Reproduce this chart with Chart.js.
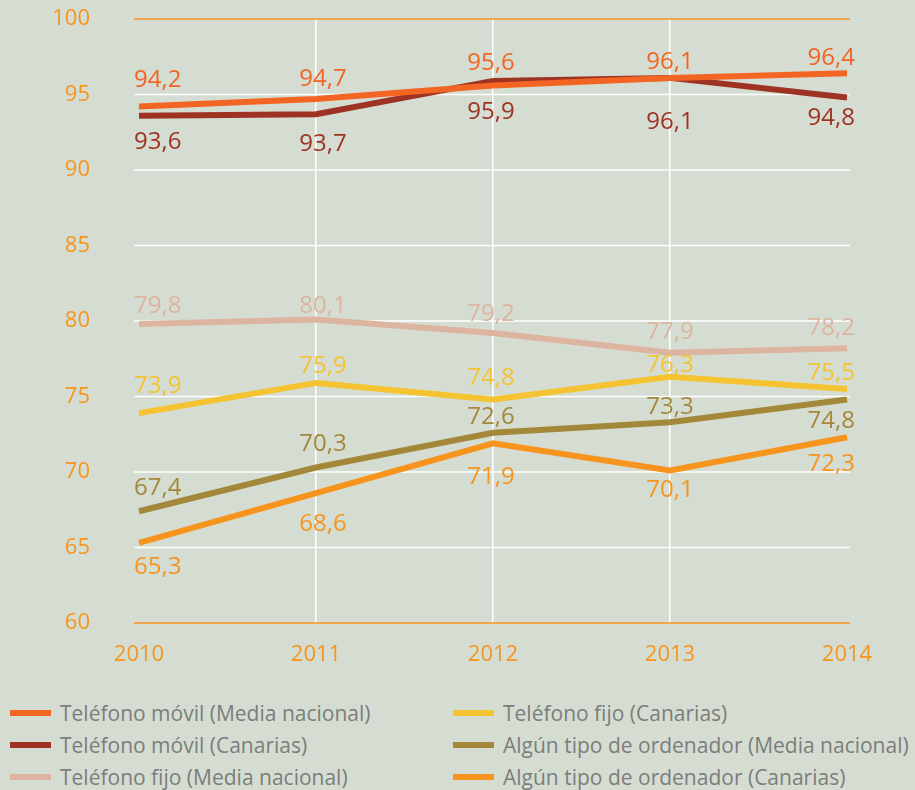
<!DOCTYPE html>
<html>
<head>
<meta charset="utf-8">
<script src="https://cdn.jsdelivr.net/npm/chart.js@4"></script>
<style>
  html, body { margin:0; padding:0; background:#d5ddd2; width:915px; height:790px; overflow:hidden; font-family:"Open Sans", sans-serif; }
  #wrap { position:absolute; left:0; top:0; width:915px; height:690px; }
  .leg { position:absolute; display:flex; align-items:center; font-size:21px; color:#7b7d7c; white-space:nowrap; height:30px; }
  .leg span.m { display:inline-block; width:41px; height:6px; margin-right:9px; }
</style>
</head>
<body>
<div id="wrap"><canvas id="c" width="915" height="690"></canvas></div>
<div id="legend"></div>
<script>
const years = ['2010', '2011', '2012', '2013', '2014'];
const seriesNames = [
  'Teléfono móvil (Media nacional)',
  'Teléfono móvil (Canarias)',
  'Teléfono fijo (Media nacional)',
  'Teléfono fijo (Canarias)',
  'Algún tipo de ordenador (Media nacional)',
  'Algún tipo de ordenador (Canarias)'
];
const movilNacional     = [94.2, 94.7, 95.6, 96.1, 96.4];
const movilCanarias     = [93.6, 93.7, 95.9, 96.1, 94.8];
const fijoNacional      = [79.8, 80.1, 79.2, 77.9, 78.2];
const fijoCanarias      = [73.9, 75.9, 74.8, 76.3, 75.5];
const ordenadorNacional = [67.4, 70.3, 72.6, 73.3, 74.8];
const ordenadorCanarias = [65.3, 68.6, 71.9, 70.1, 72.3];
const yTicks = [60, 65, 70, 75, 80, 85, 90, 95, 100];

// styling (not data)
const colors = ['#f26522', '#9e3324', '#ddb4a0', '#f5c332', '#a3883a', '#f7941d'];
const labelOffsets = [
  [-28, -22, -24, -17, -17],
  [ 25,  28,  30,  43,  19],
  [-20, -15, -21, -22, -22],
  [-29, -18, -23, -13, -18],
  [-25, -25, -17, -17,  20],
  [ 22,  29,  32,  18,  25]
];
const labelDx = [-5, 7, -2, 0, 8];
const AXIS_COLOR = '#f7941d';

const seriesValues = [movilNacional, movilCanarias, fijoNacional, fijoCanarias, ordenadorNacional, ordenadorCanarias];

const datasets = seriesValues.map((vals, i) => ({
  label: seriesNames[i],
  data: vals,
  borderColor: colors[i],
  backgroundColor: colors[i],
  borderWidth: 6,
  pointRadius: 0,
  pointHoverRadius: 0,
  tension: 0,
  fill: false,
  borderCapStyle: 'butt',
  borderJoinStyle: 'miter'
}));

const gridPlugin = {
  id: 'hgrid',
  beforeDatasetsDraw(chart) {
    const { ctx, chartArea, scales } = chart;
    ctx.save();
    yTicks.forEach(v => {
      const y = scales.y.getPixelForValue(v);
      ctx.beginPath();
      ctx.strokeStyle = (v === 100 || v === 60) ? AXIS_COLOR : '#ffffff';
      ctx.lineWidth = 1.5;
      ctx.moveTo(chartArea.left - 5, y);
      ctx.lineTo(chartArea.right + 3, y);
      ctx.stroke();
    });
    ctx.restore();
  }
};

const labelPlugin = {
  id: 'vlabels',
  afterDatasetsDraw(chart) {
    const { ctx } = chart;
    ctx.save();
    const fs = 24;
    ctx.font = fs + 'px "Open Sans", sans-serif';
    ctx.textBaseline = 'alphabetic';
    chart.data.datasets.forEach((ds, di) => {
      const meta = chart.getDatasetMeta(di);
      meta.data.forEach((pt, i) => {
        const txt = ds.data[i].toFixed(1).replace('.', ',');
        let align = 'center';
        if (i === 0) align = 'left';
        if (i === ds.data.length - 1) align = 'right';
        ctx.textAlign = align;
        ctx.fillStyle = colors[di];
        const cy = pt.y + labelOffsets[di][i];
        ctx.fillText(txt, pt.x + labelDx[i], cy + fs * 0.357);
      });
    });
    ctx.restore();
  }
};

new Chart(document.getElementById('c'), {
  type: 'line',
  data: { labels: years, datasets },
  options: {
    responsive: false,
    animation: false,
    events: [],
    layout: { padding: { left: 0, right: 68, top: 19, bottom: 0 } },
    plugins: { legend: { display: false }, tooltip: { enabled: false } },
    scales: {
      x: {
        offset: false,
        grid: {
          offset: false,
          drawTicks: false,
          lineWidth: 1.5,
          color: c => (c.index >= 1 && c.index <= 3) ? '#ffffff' : 'rgba(0,0,0,0)'
        },
        border: { display: false },
        ticks: { color: AXIS_COLOR, font: { family: 'Open Sans', size: 22 }, padding: 19, maxRotation: 0 },
        afterFit: s => { s.height = 67; s.paddingLeft = 0; s.paddingRight = 0; }
      },
      y: {
        min: 60, max: 100,
        grid: { display: false, drawTicks: false },
        border: { display: false },
        ticks: { color: AXIS_COLOR, font: { family: 'Open Sans', size: 22 }, padding: 49, stepSize: 5 },
        afterBuildTicks: s => { s.ticks = yTicks.map(v => ({ value: v })); },
        afterFit: s => { s.width = 139; s.paddingTop = 0; s.paddingBottom = 0; }
      }
    }
  },
  plugins: [gridPlugin, labelPlugin]
});

// legend (column-major, two columns)
const legend = document.getElementById('legend');
const colX = [10, 453];
const rowY = [698, 730, 762];
seriesNames.forEach((name, i) => {
  const col = Math.floor(i / 3), row = i % 3;
  const d = document.createElement('div');
  d.className = 'leg';
  d.style.left = colX[col] + 'px';
  d.style.top = rowY[row] + 'px';
  const m = document.createElement('span');
  m.className = 'm';
  m.style.background = colors[i];
  const t = document.createElement('span');
  t.textContent = name;
  d.appendChild(m); d.appendChild(t);
  legend.appendChild(d);
});
</script>
</body>
</html>
